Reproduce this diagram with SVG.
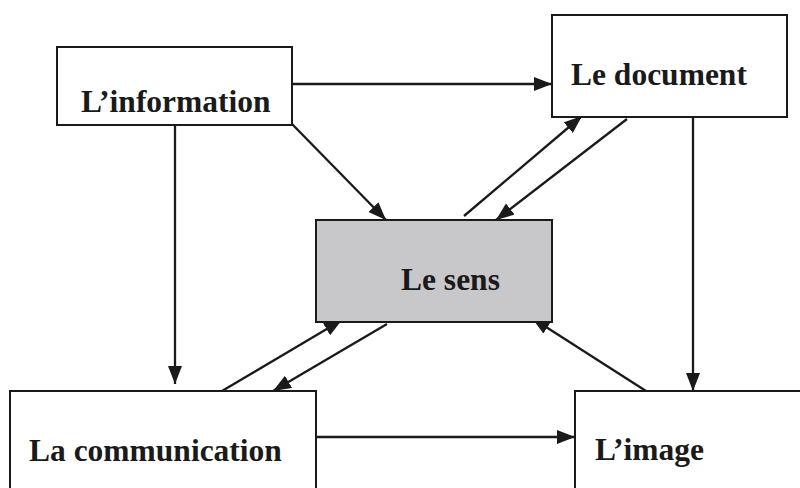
<svg xmlns="http://www.w3.org/2000/svg" width="800" height="488" viewBox="0 0 800 488">
<style>
.box{fill:#fff;stroke:#1a1a1a;stroke-width:2}
.center{fill:#c8c8ca;stroke:#1a1a1a;stroke-width:2}
.lbl{font-family:"Liberation Serif","Times New Roman",serif;font-weight:bold;font-size:31.5px;fill:#1a1a1a}
.c{stroke:#1a1a1a;stroke-width:2.3;fill:none;marker-end:url(#ah)}
</style>
<defs>
<marker id="ah" markerUnits="userSpaceOnUse" markerWidth="19" markerHeight="15" refX="18" refY="7" orient="auto">
<path d="M0,0 L18,7 L0,14 z" fill="#1a1a1a"/>
</marker>
</defs>
<rect width="800" height="488" fill="#fff"/>
<g id="connectors">
<line class="c" x1="292" y1="84" x2="552" y2="84"/>
<line class="c" x1="292" y1="124" x2="386" y2="220"/>
<line class="c" x1="175" y1="125" x2="175" y2="384"/>
<line class="c" x1="464" y1="216" x2="582" y2="116"/>
<line class="c" x1="627" y1="119" x2="496" y2="220"/>
<line class="c" x1="693" y1="117" x2="693" y2="391"/>
<line class="c" x1="646" y1="391" x2="532" y2="318"/>
<line class="c" x1="387" y1="324" x2="273" y2="391"/>
<line class="c" x1="222" y1="391" x2="342" y2="320"/>
<line class="c" x1="316" y1="437" x2="575" y2="437"/>
</g>
<g id="information">
<rect class="box" x="57" y="47" width="235" height="78"/>
<text class="lbl" x="81" y="112">L’information</text>
</g>
<g id="document">
<rect class="box" x="552" y="15" width="235" height="102"/>
<text class="lbl" x="571" y="85">Le document</text>
</g>
<g id="sens">
<rect class="center" x="316" y="220" width="236" height="102"/>
<text class="lbl" x="401" y="290">Le sens</text>
</g>
<g id="communication">
<rect class="box" x="10" y="391" width="306" height="110"/>
<text class="lbl" x="29" y="461">La communication</text>
</g>
<g id="image">
<rect class="box" x="575" y="391" width="240" height="110"/>
<text class="lbl" x="595" y="460">L’image</text>
</g>
</svg>
